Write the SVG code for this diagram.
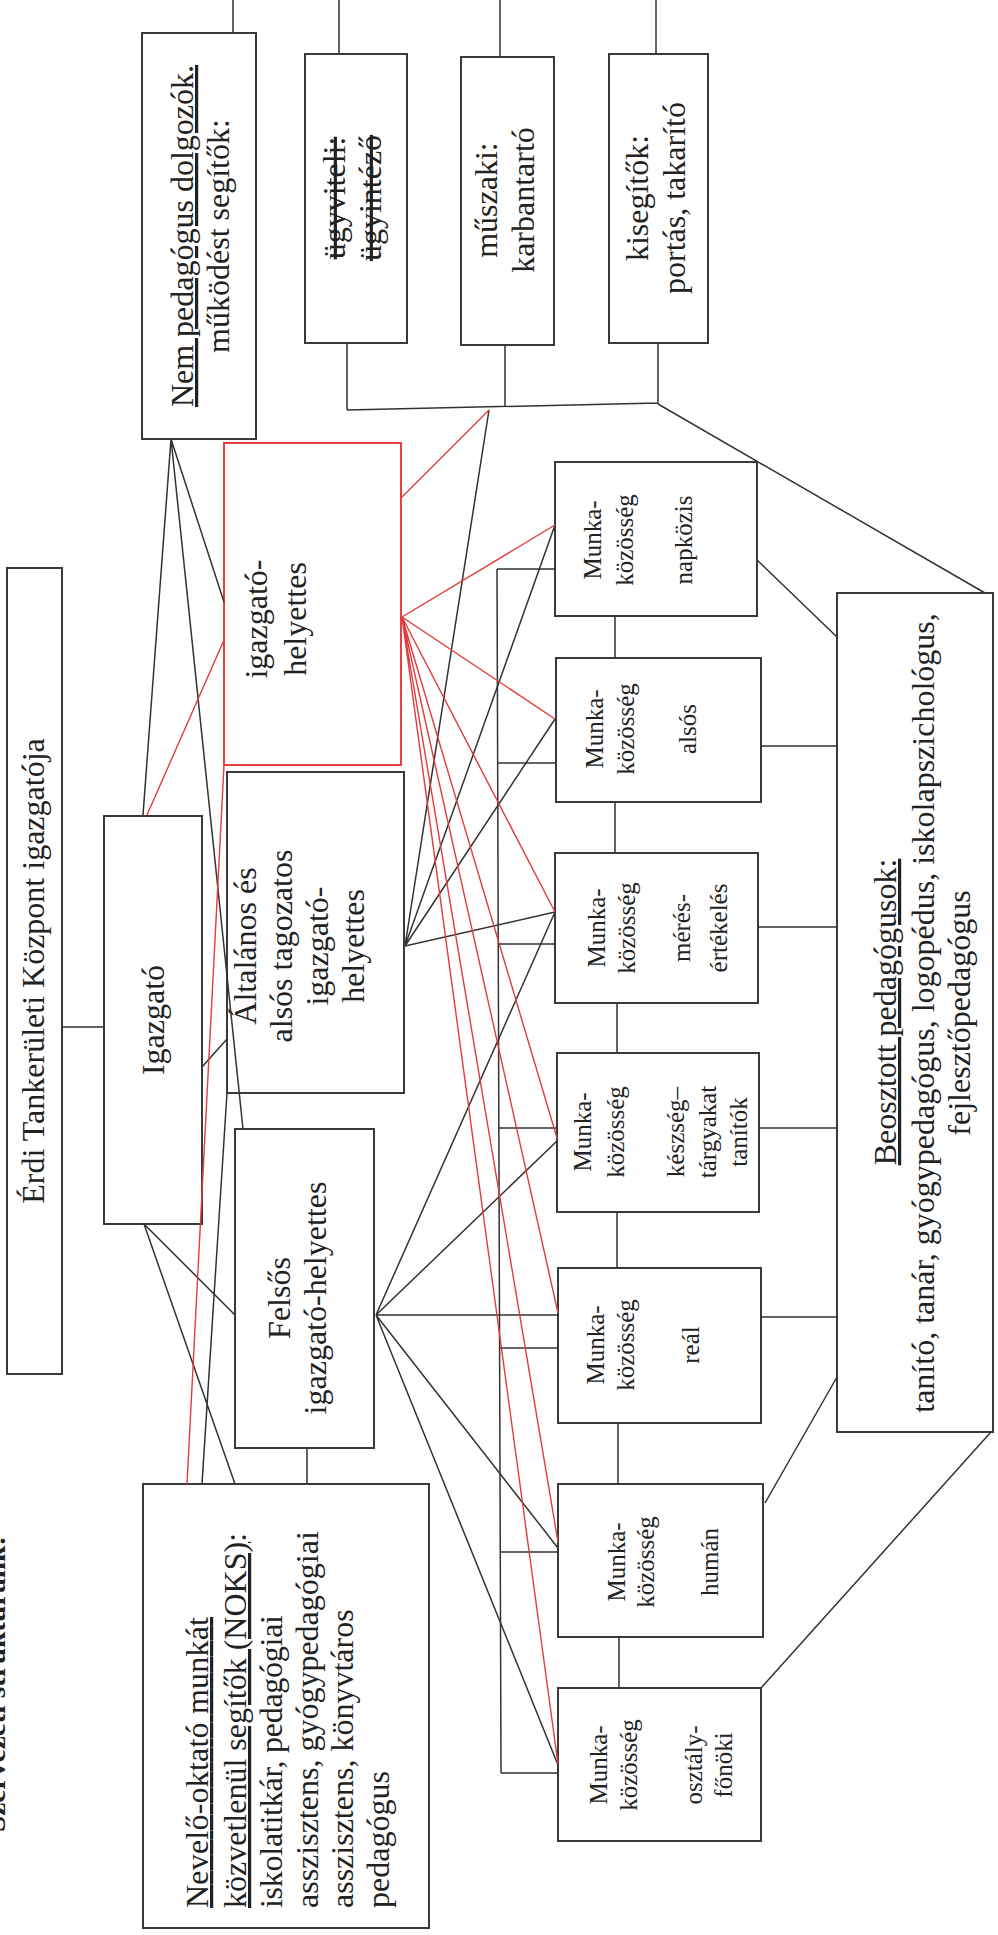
<svg xmlns="http://www.w3.org/2000/svg" width="998" height="1935" viewBox="0 0 998 1935">
<style>
.bg{fill:#ffffff}
.box{fill:#ffffff;stroke:#3a3a3a;stroke-width:2}
.rbox{fill:#ffffff;stroke:#e8413c;stroke-width:2}
.t{font-family:"Liberation Serif","Times New Roman",serif;font-size:32px;fill:#222222}
.m{font-size:25px}
.c{text-anchor:middle}
.u{text-decoration:underline}
.s{text-decoration:line-through}
.ln{fill:none;stroke:#333333;stroke-width:1.5}
.rd{fill:none;stroke:#e23b3b;stroke-width:1.4}
.title{font-family:"Liberation Serif","Times New Roman",serif;font-size:28px;font-weight:bold;fill:#222222}
</style>
<rect class="bg" x="0" y="0" width="998" height="1935"/>
<text class="title" transform="translate(5,1832) rotate(-90)" textLength="296" lengthAdjust="spacingAndGlyphs">Szervezeti struktúránk:</text>

<g id="nodes">
<g id="n-nempedagogus">
<rect class="box" x="142" y="33" width="114" height="406"/>
<text class="t c u" transform="translate(193,236) rotate(-90)">Nem pedagógus dolgozók.</text>
<text class="t c" transform="translate(229,236) rotate(-90)">működést segítők:</text>
</g>
<g id="n-ugyviteli">
<rect class="box" x="305" y="54" width="102" height="289"/>
<text class="t c s" transform="translate(345,198) rotate(-90)">ügyviteli:</text>
<text class="t c s" transform="translate(381,198) rotate(-90)">ügyintéző</text>
</g>
<g id="n-muszaki">
<rect class="box" x="461" y="57" width="93" height="288"/>
<text class="t c" transform="translate(497,200) rotate(-90)">műszaki:</text>
<text class="t c" transform="translate(534,200) rotate(-90)">karbantartó</text>
</g>
<g id="n-kisegitok">
<rect class="box" x="609" y="54" width="99" height="289"/>
<text class="t c" transform="translate(648,198) rotate(-90)">kisegítők:</text>
<text class="t c" transform="translate(685,198) rotate(-90)">portás, takarító</text>
</g>
<g id="n-erdi">
<rect class="box" x="7" y="568" width="55" height="806"/>
<text class="t c" transform="translate(44,971) rotate(-90)">Érdi Tankerületi Központ igazgatója</text>
</g>
<g id="n-igazgato">
<rect class="box" x="104" y="816" width="98" height="408"/>
<text class="t c" transform="translate(164,1020) rotate(-90)">Igazgató</text>
</g>
<g id="n-igh">
<rect class="rbox" x="224" y="443" width="177" height="322"/>
<text class="t c" transform="translate(267,619) rotate(-90)">igazgató-</text>
<text class="t c" transform="translate(306,619) rotate(-90)">helyettes</text>
</g>
<g id="n-altalanos">
<rect class="box" x="227" y="772" width="177" height="321"/>
<text class="t c" transform="translate(256,946) rotate(-90)">Általános és</text>
<text class="t c" transform="translate(292,946) rotate(-90)">alsós tagozatos</text>
<text class="t c" transform="translate(328,946) rotate(-90)">igazgató-</text>
<text class="t c" transform="translate(364,946) rotate(-90)">helyettes</text>
</g>
<g id="n-felsos">
<rect class="box" x="235" y="1129" width="139" height="319"/>
<text class="t c" transform="translate(290,1298) rotate(-90)">Felsős</text>
<text class="t c" transform="translate(326,1298) rotate(-90)">igazgató-helyettes</text>
</g>
<g id="n-noks">
<rect class="box" x="143" y="1484" width="286" height="444"/>
<text class="t u" transform="translate(208,1908) rotate(-90)" textLength="291" lengthAdjust="spacing">Nevelő-oktató munkát</text>
<text class="t" transform="translate(246,1908) rotate(-90)"><tspan class="u">közvetlenül segítők (NOKS)</tspan>:</text>
<text class="t" transform="translate(282,1908) rotate(-90)" textLength="293" lengthAdjust="spacing">iskolatitkár, pedagógiai</text>
<text class="t" transform="translate(318,1908) rotate(-90)">asszisztens, gyógypedagógiai</text>
<text class="t" transform="translate(353,1908) rotate(-90)">asszisztens, könyvtáros</text>
<text class="t" transform="translate(389,1908) rotate(-90)">pedagógus</text>
</g>
<g id="n-napkozis">
<rect class="box" x="555" y="462" width="202" height="154"/>
<text class="t m c" transform="translate(601,540) rotate(-90)">Munka-</text>
<text class="t m c" transform="translate(633,540) rotate(-90)">közösség</text>
<text class="t m c" transform="translate(692,540) rotate(-90)">napközis</text>
</g>
<g id="n-alsos">
<rect class="box" x="556" y="658" width="205" height="144"/>
<text class="t m c" transform="translate(603,729) rotate(-90)">Munka-</text>
<text class="t m c" transform="translate(634,729) rotate(-90)">közösség</text>
<text class="t m c" transform="translate(696,729) rotate(-90)">alsós</text>
</g>
<g id="n-meres">
<rect class="box" x="555" y="853" width="203" height="150"/>
<text class="t m c" transform="translate(605,928) rotate(-90)">Munka-</text>
<text class="t m c" transform="translate(635,928) rotate(-90)">közösség</text>
<text class="t m c" transform="translate(690,928) rotate(-90)">mérés-</text>
<text class="t m c" transform="translate(727,928) rotate(-90)">értékelés</text>
</g>
<g id="n-keszseg">
<rect class="box" x="557" y="1053" width="202" height="159"/>
<text class="t m c" transform="translate(591,1132) rotate(-90)">Munka-</text>
<text class="t m c" transform="translate(624,1132) rotate(-90)">közösség</text>
<text class="t m c" transform="translate(684,1132) rotate(-90)">készség–</text>
<text class="t m c" transform="translate(716,1132) rotate(-90)">tárgyakat</text>
<text class="t m c" transform="translate(747,1132) rotate(-90)">tanítók</text>
</g>
<g id="n-real">
<rect class="box" x="558" y="1268" width="203" height="155"/>
<text class="t m c" transform="translate(604,1345) rotate(-90)">Munka-</text>
<text class="t m c" transform="translate(634,1345) rotate(-90)">közösség</text>
<text class="t m c" transform="translate(699,1345) rotate(-90)">reál</text>
</g>
<g id="n-human">
<rect class="box" x="558" y="1484" width="205" height="153"/>
<text class="t m c" transform="translate(625,1562) rotate(-90)">Munka-</text>
<text class="t m c" transform="translate(654,1562) rotate(-90)">közösség</text>
<text class="t m c" transform="translate(718,1562) rotate(-90)">humán</text>
</g>
<g id="n-osztaly">
<rect class="box" x="558" y="1688" width="203" height="153"/>
<text class="t m c" transform="translate(607,1765) rotate(-90)">Munka-</text>
<text class="t m c" transform="translate(637,1765) rotate(-90)">közösség</text>
<text class="t m c" transform="translate(702,1765) rotate(-90)">osztály-</text>
<text class="t m c" transform="translate(732,1765) rotate(-90)">főnöki</text>
</g>
<g id="n-beosztott">
<rect class="box" x="837" y="593" width="156" height="839"/>
<text class="t c u" transform="translate(896,1012) rotate(-90)">Beosztott pedagógusok:</text>
<text class="t c" transform="translate(934,1013) rotate(-90)">tanító, tanár, gyógypedagógus, logopédus, iskolapszichológus,</text>
<text class="t c" transform="translate(970,1013) rotate(-90)">fejlesztőpedagógus</text>
</g>
</g>

<g id="connectors">
<path class="ln" d="M233,0 V33 M339,0 V54 M500,0 V57 M656,0 V54"/>
<path class="ln" d="M347,343 V410 M505,345 V407 M658,343 V404 M347,410 L658,403 M658,404 L985,593"/>
<path class="ln" d="M171,439 L143,815 M171,439 L224,602 M171,439 L243,1129"/>
<path class="ln" d="M62,1027 H104 M202,1067 L227,1039 M227,1093 L202,1484 M144,1224 L235,1315 M144,1224 L235,1484 M307,1448 V1484"/>
<path class="ln" d="M405,946 L489,410 M405,946 L555,525 M405,946 L555,719 M405,946 L555,912"/>
<path class="ln" d="M376,1315 L555,912 M376,1315 L557,1141 M376,1315 L558,1315 M376,1315 L558,1548 M376,1315 L558,1765"/>
<path class="ln" d="M497,569 L501,1773 M497,569 H555 M498,763 H556 M499,944 H555 M499,1128 H557 M500,1348 H558 M501,1552 H558 M501,1773 H558"/>
<path class="ln" d="M615,616 V658 M615,802 V853 M617,1003 V1053 M617,1212 V1268 M618,1423 V1484 M619,1637 V1688"/>
<path class="ln" d="M757,560 L837,637 M761,746 H837 M758,927 H837 M759,1128 H837 M761,1317 H837 M765,1503 L837,1377 M761,1688 L991,1432"/>
<path class="rd" d="M402,497 L489,410 M147,815 L224,640 M187,1484 L224,765"/>
<path class="rd" d="M402,617 L555,525 M402,617 L555,719 M402,617 L555,912 M402,617 L557,1138 M402,617 L558,1313 M402,617 L558,1542 M402,617 L558,1764"/>
</g>
</svg>
